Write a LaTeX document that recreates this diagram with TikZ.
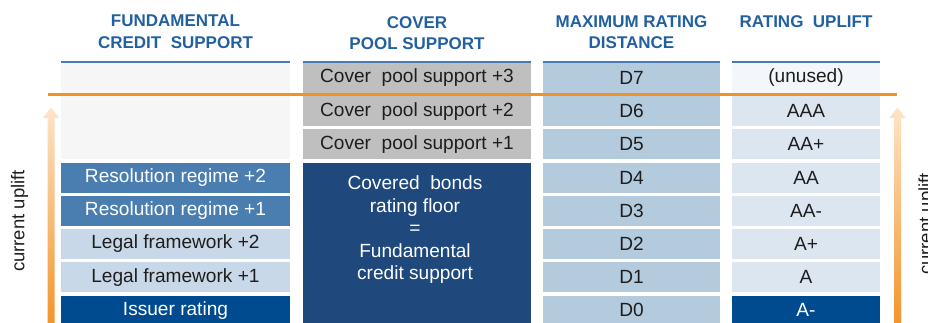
\documentclass[tikz,border=0pt]{standalone}
\usepackage{fontspec}
\setmainfont{Liberation Sans}
\definecolor{hdrtxt}{RGB}{34,96,160}
\definecolor{hdrline}{RGB}{72,122,180}
\definecolor{txtdark}{RGB}{30,30,30}
\definecolor{emptyfill}{RGB}{246,246,246}
\definecolor{resfill}{RGB}{74,125,176}
\definecolor{legfill}{RGB}{200,216,233}
\definecolor{issfill}{RGB}{0,75,143}
\definecolor{cpfill}{RGB}{191,191,191}
\definecolor{floorfill}{RGB}{31,72,124}
\definecolor{dfill}{RGB}{180,202,221}
\definecolor{upfill}{RGB}{220,230,241}
\definecolor{unusedfill}{RGB}{243,246,250}
\definecolor{orangeline}{RGB}{242,146,38}
\definecolor{orangelight}{RGB}{253,228,200}
\begin{document}
\begin{tikzpicture}[x=1pt,y=-1pt,
  cell/.style={inner sep=0pt, outer sep=0pt, minimum height=29.8pt,
    font=\fontsize{19.1}{22}\selectfont, text=txtdark},
  colA/.style={cell, minimum width=229pt},
  colB/.style={cell, minimum width=228pt},
  colC/.style={cell, minimum width=177pt, fill=dfill},
  colD/.style={cell, minimum width=148pt, fill=upfill},
  hdr/.style={inner sep=0pt, anchor=north, align=center, text=hdrtxt,
    font=\fontsize{17}{21.5}\selectfont\bfseries},
  hline/.style={draw=hdrline, line width=2.2pt},
  sidetext/.style={inner sep=0pt, rotate=90, text=txtdark,
    font=\fontsize{18.5}{22}\selectfont},
  uplift/.style={top color=orangelight, bottom color=orangeline, draw=none}
]
\useasboundingbox (0,0) rectangle (928,323);
\clip (0,0) rectangle (928,323);

% headers
\node[hdr] (h1) at (175.5,15) {FUNDAMENTAL\\CREDIT~~SUPPORT};
\node[hdr] (h2) at (417,16) {COVER\\POOL~SUPPORT};
\node[hdr] (h3) at (631.5,15) {MAXIMUM RATING\\DISTANCE};
\node[hdr] (h4) at (806,15) {RATING~~UPLIFT};
\draw[hline] (61,61.7) -- (290,61.7);
\draw[hline] (303,61.7) -- (531,61.7);
\draw[hline] (543,61.7) -- (720,61.7);
\draw[hline] (732,61.7) -- (880,61.7);

% column 1
\node[cell, fill=emptyfill, minimum width=229pt, minimum height=96.2pt] (a567) at (175.5,111.2) {};
\node[colA, fill=resfill, text=white] (a4) at (175.5,177.6) {Resolution regime +2};
\node[colA, fill=resfill, text=white] (a3) at (175.5,210.8) {Resolution regime +1};
\node[colA, fill=legfill] (a2) at (175.5,244.0) {Legal framework +2};
\node[colA, fill=legfill] (a1) at (175.5,277.2) {Legal framework +1};
\node[colA, fill=issfill, text=white] (a0) at (175.5,310.4) {Issuer rating};

% column 2
\node[colB, fill=cpfill] (b7) at (417,78.0) {Cover~ pool support +3};
\node[colB, fill=cpfill] (b6) at (417,111.2) {Cover~ pool support +2};
\node[colB, fill=cpfill] (b5) at (417,144.4) {Cover~ pool support +1};
\node[cell, fill=floorfill, minimum width=228pt, minimum height=162.6pt] (bfloor) at (417,244.0) {};
\node[inner sep=0pt, align=center, text=white, font=\fontsize{19.1}{22.5}\selectfont] (bfloortext) at (415,230) {Covered~ bonds\\rating floor\\=\\Fundamental\\credit support};

% column 3
\node[colC] (c7) at (631.5,78.0) {D7};
\node[colC] (c6) at (631.5,111.2) {D6};
\node[colC] (c5) at (631.5,144.4) {D5};
\node[colC] (c4) at (631.5,177.6) {D4};
\node[colC] (c3) at (631.5,210.8) {D3};
\node[colC] (c2) at (631.5,244.0) {D2};
\node[colC] (c1) at (631.5,277.2) {D1};
\node[colC] (c0) at (631.5,310.4) {D0};

% column 4
\node[colD, fill=unusedfill] (d7) at (806,78.0) {(unused)};
\node[colD] (d6) at (806,111.2) {AAA};
\node[colD] (d5) at (806,144.4) {AA+};
\node[colD] (d4) at (806,177.6) {AA};
\node[colD] (d3) at (806,210.8) {AA-};
\node[colD] (d2) at (806,244.0) {A+};
\node[colD] (d1) at (806,277.2) {A};
\node[colD, fill=issfill, text=white] (d0) at (806,310.4) {A-};

% uplift arrows
\shade[uplift] (47.5,330) -- (47.5,118) -- (43,118) -- (51,107.5) -- (59,118) -- (54.5,118) -- (54.5,330) -- cycle;
\shade[uplift] (894,330) -- (894,118) -- (889.5,118) -- (897.5,107.5) -- (905.5,118) -- (901,118) -- (901,330) -- cycle;

% current limit line
\coordinate (lineL) at (48,94.5);
\coordinate (lineR) at (897,94.5);
\draw[draw=orangeline, line width=3.6pt] (lineL) -- (lineR);

% side labels
\node[sidetext] (sideL) at (19.5,221) {current uplift};
\node[sidetext] (sideR) at (927,224) {current uplift};
\end{tikzpicture}
\end{document}
